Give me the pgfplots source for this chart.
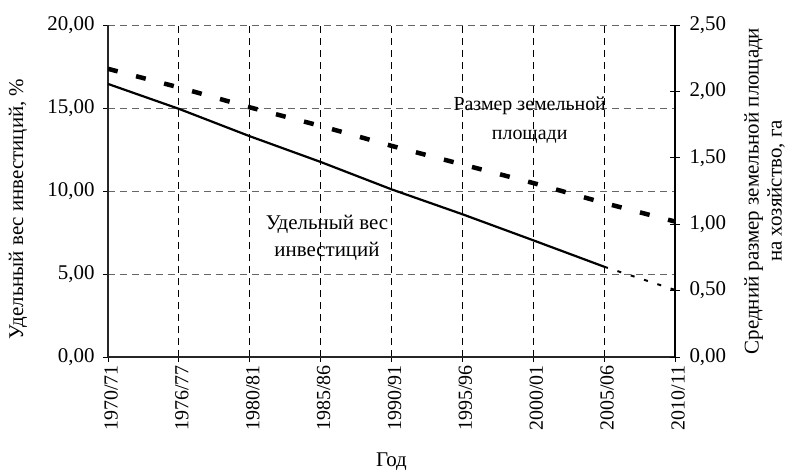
\documentclass[border=0pt]{standalone}
\usepackage{pgfplots}
\usepackage{pgfplotstable}
\pgfplotsset{compat=1.18}
\usepackage{fontspec}
\setmainfont{Liberation Serif}

% share of investment, %  (left axis)
\pgfplotstableread{
idx inv
0 16.45
1 14.95
2 13.30
3 11.75
4 10.10
5 8.60
6 7.03
7 5.44
}\invest

% average land size per farm, ha  (right axis)
\pgfplotstableread{
idx land
0 2.17
1 2.03
2 1.88
3 1.74
4 1.59
5 1.45
6 1.31
7 1.16
8 1.02
}\land

\pgfplotsset{
  numfmt/.style={/pgf/number format/.cd, fixed, fixed zerofill, precision=2, use comma, assume math mode=true},
}

\begin{document}
\begin{tikzpicture}[font=\fontsize{21}{25}\selectfont]
\useasboundingbox (-108bp,-118bp) rectangle (680bp,357bp);
\begin{axis}[
  scale only axis, width=567bp, height=332bp,
  xmin=0, xmax=8, ymin=0, ymax=20,
  axis x line=bottom, axis y line=left,
  axis line style={-, line width=1.5bp, black!85},
  xtick={0,...,8},
  xticklabels={1970/71,1976/77,1980/81,1985/86,1990/91,1995/96,2000/01,2005/06,2010/11},
  ytick={0,5,10,15,20},
  tick align=outside, major tick length=5bp,
  tick style={black, line width=0.8bp},
  xticklabel style={rotate=90, anchor=east, yshift=-3bp, font=\fontsize{20}{24}\selectfont},
  yticklabel style={xshift=-5bp, numfmt},
  xmajorgrids, ymajorgrids,
  x grid style={black, line width=0.8bp, dash pattern=on 7bp off 5bp},
  y grid style={black!60, line width=0.8bp, dash pattern=on 7bp off 5bp},
  xlabel={Год},
  xlabel style={at={(axis description cs:0.5,-0.316)}, anchor=center},
  ylabel={Удельный вес инвестиций, \%},
  ylabel style={at={(axis description cs:-0.1587,0.446)}, anchor=center},
]
\addplot[black, line width=2.2bp, mark=none] table[x=idx, y=inv] {\invest};
\addplot[black, line width=2bp, dash pattern=on 4bp off 10bp, mark=none] coordinates {(7,5.44) (8,4.04)};
\node[align=center, font=\fontsize{21}{27}\selectfont] at (axis cs:3.09,7.17) {Удельный вес\\инвестиций};
\node[align=center, font=\fontsize{20}{29}\selectfont] at (axis cs:5.95,14.28) {Размер земельной\\площади};
\end{axis}
\begin{axis}[
  scale only axis, width=567bp, height=332bp,
  xmin=0, xmax=8, ymin=0, ymax=2.5,
  axis x line=none, axis y line=right,
  axis line style={-, line width=1.5bp, black},
  ytick={0,0.5,1,1.5,2,2.5},
  tick align=center, major tick length=10bp,
  tick style={black, line width=0.8bp},
  yticklabel style={xshift=6bp, numfmt},
  ylabel={Средний размер земельной площади\\на хозяйство, га},
  ylabel style={at={(axis description cs:1.158,0.5)}, anchor=center, align=center, font=\fontsize{21}{23}\selectfont},
]
\addplot[black, line width=4.5bp, dash pattern=on 10bp off 19bp, mark=none] table[x=idx, y=land] {\land};
\end{axis}
\end{tikzpicture}
\end{document}
